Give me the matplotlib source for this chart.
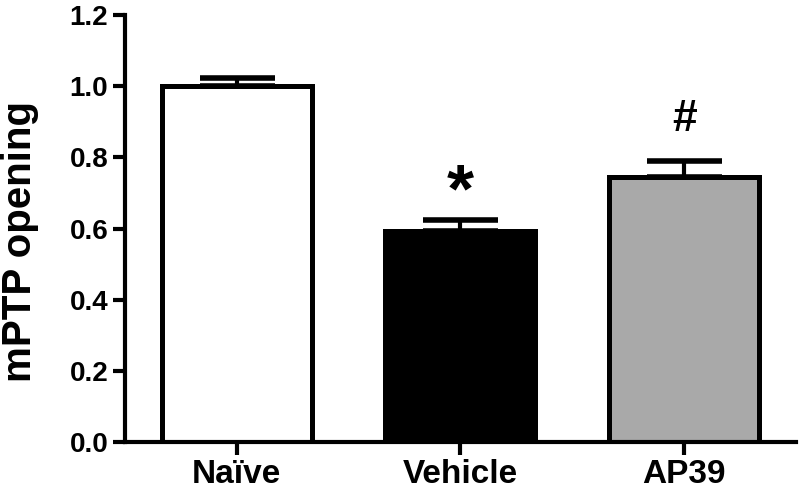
import matplotlib
matplotlib.use("Agg")
import matplotlib.pyplot as plt

groups = ["Naïve", "Vehicle", "AP39"]
means = [1.0, 0.593, 0.745]
errors = [0.022, 0.03, 0.045]
marks = ["", "*", "#"]
colors = ["white", "black", "#a9a9a9"]

plt.rcParams["font.family"] = ["Liberation Sans", "DejaVu Sans"]
plt.rcParams["font.weight"] = "bold"

fig = plt.figure(figsize=(8, 4.93), dpi=100)
ax = fig.add_axes([0.156, 0.103, 0.839, 0.867])

x = range(len(groups))
ax.bar(x, means, width=0.67, color=colors, edgecolor="black", linewidth=3.6, zorder=2)
ax.errorbar(x, means, yerr=[[0] * 3, errors], fmt="none", ecolor="black",
            elinewidth=3, capsize=27, capthick=4, zorder=1)

# significance marks
ax.text(1, means[1] + errors[1] + 0.026, marks[1], ha="center", va="baseline",
        fontsize=50, fontweight="bold")
ax.text(2, means[2] + errors[2] + 0.084, marks[2], ha="center", va="baseline",
        fontsize=32, fontweight="bold")

ax.set_xlim(-0.5, 2.5)
ax.set_ylim(0, 1.2)
ax.set_yticks([0.0, 0.2, 0.4, 0.6, 0.8, 1.0, 1.2])
ax.set_yticklabels(["0.0", "0.2", "0.4", "0.6", "0.8", "1.0", "1.2"],
                   fontsize=20, fontweight="bold")
ax.set_xticks(list(x))
ax.set_xticklabels(groups, fontsize=24, fontweight="bold")
ax.set_ylabel("mPTP opening", fontsize=29, fontweight="bold")
ax.yaxis.set_label_coords(-0.128, 0.47)

for s in ["top", "right"]:
    ax.spines[s].set_visible(False)
for s in ["left", "bottom"]:
    ax.spines[s].set_linewidth(3)
ax.tick_params(width=3, length=9, pad=3)

fig.savefig("out.png", dpi=100)
